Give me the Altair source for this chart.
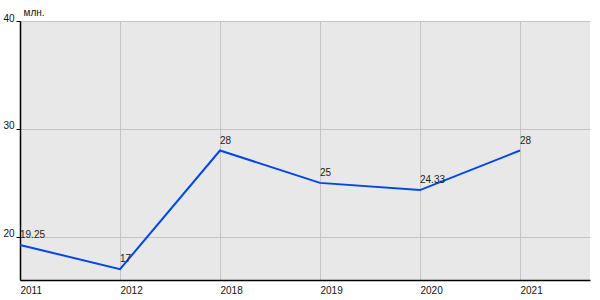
import altair as alt
import pandas as pd

years = ["2011", "2012", "2018", "2019", "2020", "2021"]
values = [19.25, 17, 28, 25, 24.33, 28]
labels = ["19.25", "17", "28", "25", "24.33", "28"]

df = pd.DataFrame({"idx": list(range(len(years))), "year": years, "value": values, "label": labels})

label_expr = "[" + ",".join("'" + y + "'" for y in years) + "][datum.value]"

base = alt.Chart(df).encode(
    x=alt.X("idx:Q",
            scale=alt.Scale(domain=[0, 5.7], nice=False, zero=False),
            axis=alt.Axis(values=list(range(len(years))), labelExpr=label_expr, title=None,
                          ticks=False, labelAlign="left", labelPadding=5, labelFontSize=10,
                          labelColor="#111", domainColor="#000", domainWidth=1.5,
                          gridColor="#c4c4c4", gridWidth=1, labelFont="Liberation Sans",
                          labelFlush=False)),
    y=alt.Y("value:Q",
            scale=alt.Scale(domain=[16, 40], nice=False, zero=False),
            axis=alt.Axis(values=[20, 30, 40], title="млн.", titleAngle=0, titleAlign="left",
                          titleBaseline="bottom", titleX=3, titleY=-4, titleFontWeight="normal",
                          titleFontSize=10, titleFont="Liberation Sans", titleColor="#111",
                          tickSize=4, tickColor="#000", labelPadding=2, labelBaseline="alphabetic",
                          labelFontSize=10, labelColor="#111", labelFont="Liberation Sans",
                          domainColor="#000", domainWidth=1.5, gridColor="#c4c4c4", gridWidth=1)),
)

line = base.mark_line(color="#0047e6", strokeWidth=2)
text = base.mark_text(align="left", baseline="bottom", dy=-5, fontSize=10,
                      color="#222", font="Liberation Sans").encode(text="label:N")

chart = (line + text).properties(
    width=570, height=259,
    autosize=alt.AutoSizeParams(type="none"),
    padding={"left": 20, "top": 21, "right": 10, "bottom": 20},
    background="white",
).configure_view(fill="#e8e8e8", stroke=None)

chart.save("out.html", embed_options={"renderer": "svg", "actions": False})
